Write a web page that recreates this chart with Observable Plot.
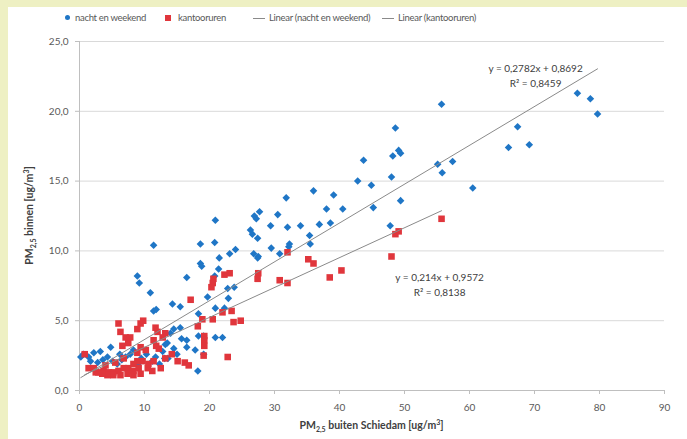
<!DOCTYPE html>
<html>
<head>
<meta charset="utf-8">
<script src="https://cdn.jsdelivr.net/npm/d3@7"></script>
<script src="https://cdn.jsdelivr.net/npm/@observablehq/plot@0.6"></script>
<style>
  html, body { margin: 0; padding: 0; }
  body { width: 687px; height: 439px; background: #eef0c3; position: relative; overflow: hidden;
         font-family: Lato, "Open Sans", sans-serif; }
  #panel { position: absolute; left: 8px; top: 7px; right: 0; bottom: 0; background: #ffffff; }
  #chart { position: absolute; left: 0; top: 0; }
  .lg { position: absolute; top: 11px; height: 14px; font-size: 9.5px; letter-spacing: -0.3px; color: #595959; line-height: 14px; white-space: nowrap; }
  .sw { position: absolute; }
</style>
</head>
<body>
<div id="panel"></div>
<div id="chart"></div>
<div id="legend"></div>
<script>
// ---- data ----
const seriesNames = ["nacht en weekend", "kantooruren"];
const trendNames = ["Linear (nacht en weekend)", "Linear (kantooruren)"];

const nachtX = [55.7,76.6,78.6,79.7,67.4,66.0,69.2,48.6,43.7,48.2,49.1,49.4,55.1,57.4,55.8,60.5,42.8,48.0,44.9,39.1,
  40.5,45.2,49.4,38.6,47.8,36.0,31.8,38.0,30.5,26.9,27.7,27.2,20.9,29.4,32.0,34.0,36.9,26.3,26.6,27.4,
  35.4,35.5,32.3,32.2,18.6,20.8,11.4,24.0,23.1,29.5,30.8,26.8,27.4,27.5,21.5,18.6,18.8,21.4,16.5,10.9,
  11.4,14.3,15.5,19.7,22.8,23.8,22.9,20.9,22.3,18.3,15.5,8.9,9.2,20.8,14.0,14.5,13.5,15.7,16.5,16.5,
  17.8,19.1,20.9,22.0,18.3,19.1,18.2,11.7,11.2,4.8,3.2,2.2,1.4,0.6,1.7,8.3,7.8,6.2,7.1,4.3,
  5.1,0.2,11.8,14.5,2.8,3.6,9.5,10.3,12.8,6.5,5.8,9.0,13.2,12.3,13.6,15.0,13.1];
const nachtY = [20.5,21.3,20.9,19.8,18.9,17.4,17.6,18.8,16.5,16.8,17.2,17.0,16.2,16.4,15.6,14.5,15.0,15.3,14.7,14.0,
  13.0,13.1,13.6,12.0,11.8,14.3,13.8,13.0,12.6,12.5,12.8,12.3,12.2,11.8,11.7,11.8,11.9,11.5,11.2,10.9,
  11.1,10.5,10.5,10.3,10.5,10.6,10.4,10.1,9.8,10.2,9.8,9.8,9.5,9.6,9.5,9.1,8.9,8.7,8.1,7.0,
  5.7,6.2,6.0,6.7,7.3,7.4,6.6,5.9,5.9,5.5,4.5,8.2,7.7,8.2,4.1,3.0,3.4,3.7,3.6,3.1,
  2.9,2.6,3.8,3.8,3.9,3.9,1.4,2.4,2.1,3.1,2.8,2.7,2.4,2.6,2.1,2.9,2.6,2.6,2.4,2.4,
  2.1,2.4,5.8,4.4,2.0,2.2,2.3,2.6,2.8,2.2,1.9,1.9,3.3,1.9,2.3,2.6,2.3];

const kantoorX = [55.7,48.6,49.1,48.0,40.3,38.5,32.0,35.2,36.0,30.8,32.0,27.5,27.4,22.3,23.1,20.6,20.5,20.3,17.1,22.0,
  23.4,18.9,20.5,23.7,24.8,18.2,19.2,19.2,19.2,19.1,22.8,11.7,16.2,15.1,13.2,6.0,6.3,7.1,7.8,7.5,
  6.6,9.4,9.8,8.9,12.0,13.2,12.8,11.4,12.2,11.8,0.8,1.4,2.2,2.9,3.7,4.5,5.2,6.0,6.8,7.5,
  8.3,9.1,9.4,8.3,7.4,6.3,5.2,4.3,3.5,2.5,10.5,11.2,10.6,11.4,9.7,8.9,8.3,10.2,9.4,8.9,
  5.5,4.0,6.8,12.5,14.2,16.8];
const kantoorY = [12.3,11.2,11.4,9.6,8.6,8.1,9.9,9.4,9.1,7.9,7.7,8.4,8.0,8.3,8.4,8.0,7.7,7.4,6.5,5.6,
  5.7,5.1,5.1,4.9,5.0,4.6,3.9,3.6,3.2,2.5,2.4,4.5,2.0,2.1,2.3,4.8,4.2,3.8,3.8,3.4,
  3.2,4.8,5.0,4.4,4.2,4.1,3.8,3.6,3.0,3.2,2.6,1.6,1.6,1.3,1.4,1.3,1.3,1.4,1.6,1.6,
  1.4,1.6,1.2,1.1,1.2,1.1,1.1,1.1,1.2,1.3,1.6,1.4,1.9,2.1,2.1,2.1,1.9,2.9,3.1,2.7,
  2.0,1.8,2.3,1.6,2.6,1.8];

// trend equations as printed on the chart
const trendSlope = [0.2782, 0.214];
const trendIntercept = [0.8692, 0.9572];
const trendR2 = [0.8459, 0.8138];

const xTicks = [0,10,20,30,40,50,60,70,80,90];
const yTicks = [0,5,10,15,20,25];

// ---- build ----
const comma = (v, n) => v.toFixed(n).replace(".", ",");
const nacht = nachtX.map((x, i) => ({x, y: nachtY[i]}));
const kantoor = kantoorX.map((x, i) => ({x, y: kantoorY[i]}));
function trend(data, k) {
  const [x0, x1] = d3.extent(data, d => d.x);
  return [x0, x1].map(x => ({x, y: trendSlope[k] * x + trendIntercept[k]}));
}
const tN = trend(nacht, 0), tK = trend(kantoor, 1);
const eqLabel = k => `y = ${comma(trendSlope[k], String(trendSlope[k]).split(".")[1].length)}x + ${comma(trendIntercept[k], 4)}\nR² = ${comma(trendR2[k], 4)}`;

const BLUE = "#1f76c6", RED = "#e0363c", TREND = "#8a8a8a";

const chart = Plot.plot({
  width: 687, height: 439,
  marginTop: 41, marginBottom: 49, marginLeft: 79, marginRight: 23,
  style: {background: "transparent", fontFamily: "Lato, 'Open Sans', sans-serif", fontSize: "10px", color: "#595959"},
  x: {domain: [0, 90], label: null},
  y: {domain: [0, 25], label: null},
  marks: [
    Plot.gridY(yTicks.filter(v => v > 0), {stroke: "#d9d9d9", strokeOpacity: 1, strokeWidth: 1}),
    Plot.axisY({ticks: yTicks, tickFormat: d => comma(d, 1), tickSize: 4, tickPadding: 7, stroke: "#bfbfbf", strokeOpacity: 1, label: null}),
    Plot.axisX({ticks: xTicks, tickFormat: d => String(d), tickSize: 4, tickPadding: 9, stroke: "#bfbfbf", strokeOpacity: 1, label: null}),
    Plot.ruleX([0], {stroke: "#bfbfbf"}),
    Plot.ruleY([0], {stroke: "#bfbfbf"}),
    Plot.dot(nacht, {x: "x", y: "y", symbol: "diamond2", r: 3.4, fill: BLUE, stroke: "none"}),
    Plot.dot(kantoor, {x: "x", y: "y", symbol: "square", r: 3.7, fill: RED, stroke: "none"}),
    Plot.line(tN, {x: "x", y: "y", stroke: TREND, strokeWidth: 1}),
    Plot.line(tK, {x: "x", y: "y", stroke: TREND, strokeWidth: 1}),
    Plot.text([tN[1]], {x: "x", y: "y", text: () => eqLabel(0), dx: -62, dy: 6, lineHeight: 1.5,
      textAnchor: "middle", fill: "#404040", fontSize: 10}),
    Plot.text([tK[1]], {x: "x", y: "y", text: () => eqLabel(1), dx: -2, dy: 73, lineHeight: 1.5,
      textAnchor: "middle", fill: "#404040", fontSize: 10})
  ]
});
document.getElementById("chart").appendChild(chart);

// axis titles with sub/superscripts
const svg = d3.select(chart);
const xs = chart.scale("x"), ys = chart.scale("y");
const xc = (xs.range[0] + xs.range[1]) / 2, yc = (ys.range[0] + ys.range[1]) / 2;
function title(g, parts) {
  parts.forEach(([t, kind]) => {
    const ts = g.append("tspan").text(t);
    if (kind === "sub") ts.attr("font-size", 7).attr("dy", 3);
    else if (kind === "sup") ts.attr("font-size", 7).attr("dy", -4);
    else if (kind === "afterSub") ts.attr("dy", -3);
    else if (kind === "afterSup") ts.attr("dy", 4);
  });
}
const xt = svg.append("text").attr("x", xc).attr("y", 429).attr("text-anchor", "middle")
  .attr("fill", "#404040").attr("font-weight", 700).attr("font-size", 10.5);
title(xt, [["PM"], ["2,5", "sub"], [" buiten Schiedam [ug/m", "afterSub"], ["3", "sup"], ["]", "afterSup"]]);
const yt = svg.append("text").attr("transform", `translate(${xs.range[0] - 46},${yc}) rotate(-90)`)
  .attr("text-anchor", "middle").attr("fill", "#404040").attr("font-weight", 700).attr("font-size", 10.5);
title(yt, [["PM"], ["2,5", "sub"], [" binnen [ug/m", "afterSub"], ["3", "sup"], ["]", "afterSup"]]);

// legend
const lg = document.getElementById("legend");
const items = [
  {name: seriesNames[0], sw: `<div class="sw" style="left:-10px;top:4px;width:5px;height:5px;border-radius:50%;background:${BLUE}"></div>`, left: 75},
  {name: seriesNames[1], sw: `<div class="sw" style="left:-13px;top:4px;width:6px;height:6px;background:${RED}"></div>`, left: 178},
  {name: trendNames[0], sw: `<div class="sw" style="left:-16px;top:7px;width:12px;height:1px;background:${TREND}"></div>`, left: 269},
  {name: trendNames[1], sw: `<div class="sw" style="left:-16px;top:7px;width:12px;height:1px;background:${TREND}"></div>`, left: 398}
];
items.forEach(it => {
  const d = document.createElement("div");
  d.className = "lg";
  d.style.left = it.left + "px";
  d.innerHTML = it.sw + `<span>${it.name}</span>`;
  lg.appendChild(d);
});
</script>
</body>
</html>
